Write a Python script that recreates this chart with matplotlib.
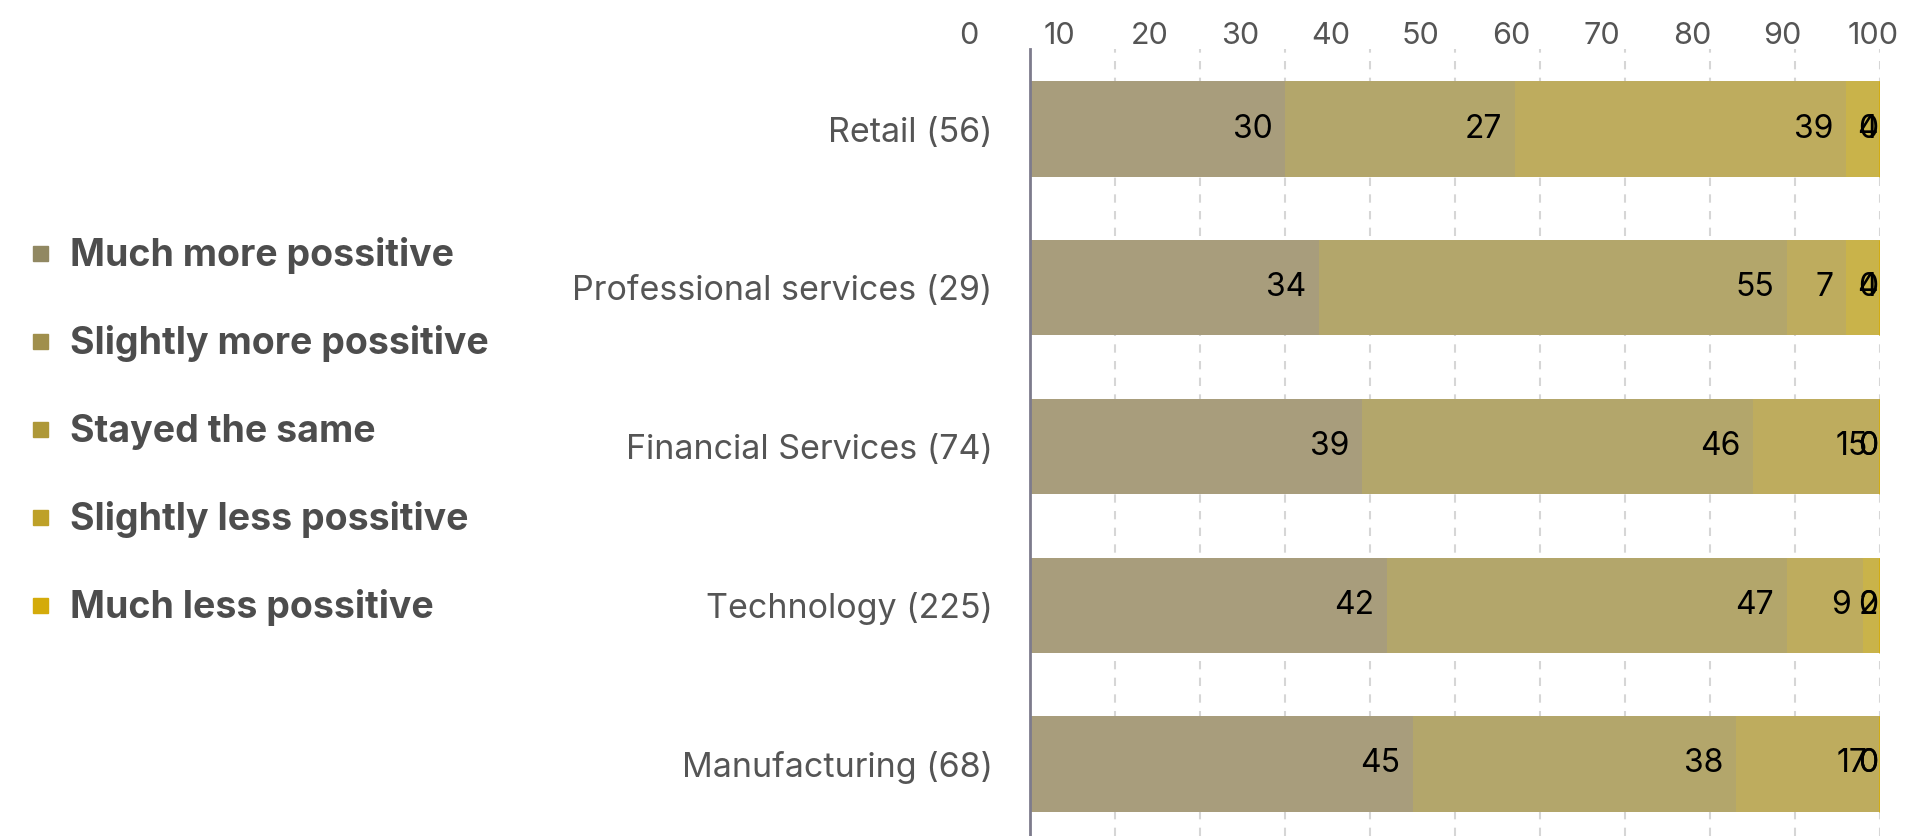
import matplotlib
matplotlib.use('Agg')
import matplotlib.pyplot as plt
from matplotlib.lines import Line2D
import numpy as np

plt.rcParams['font.family'] = ['Inter', 'DejaVu Sans']

# Data (percent of respondents per sector)
categories = ['Retail (56)', 'Professional services (29)', 'Financial Services (74)',
              'Technology (225)', 'Manufacturing (68)']
series_names = ['Much more possitive', 'Slightly more possitive', 'Stayed the same',
                'Slightly less possitive', 'Much less possitive']
much_more = [30, 34, 39, 42, 45]
slightly_more = [27, 55, 46, 47, 38]
stayed_same = [39, 7, 15, 9, 17]
slightly_less = [4, 4, 0, 2, 0]
much_less = [0, 0, 0, 0, 0]
tick_values = list(range(0, 101, 10))

series = [much_more, slightly_more, stayed_same, slightly_less, much_less]
legend_colors = ['#918862', '#a08f4c', '#ae9838', '#bea128', '#d4ab0a']
bar_colors = ['#a89d7c', '#b3a66b', '#beac5e', '#c9b34a', '#d4ac0d']

W, H = 1905, 836
fig = plt.figure(figsize=(W / 100, H / 100), dpi=100)

# main bar axes
ax = fig.add_axes([1030 / W, 0, 850 / W, 787 / H])
y = np.arange(len(categories))
left = np.zeros(len(categories))
for i, (vals, fc) in enumerate(zip(series, bar_colors)):
    vals = np.array(vals, dtype=float)
    last = i == len(series) - 1
    ax.barh(y, vals, left=left, height=0.6, color=fc,
            edgecolor=fc, linewidth=2 if last else 0, zorder=2)
    ends = left + vals
    for yi, xe, v in zip(y, ends, vals):
        off = -1.5 if v < 5 else -9
        ax.annotate(f'{int(v)}', xy=(xe, yi), xytext=(off, 0), textcoords='offset points',
                    ha='right', va='center', fontsize=23, color='black', zorder=3)
    left = ends

ax.set_xlim(0, 100)
ax.set_ylim(4.454, -0.504)
ax.set_xticks(tick_values)
ax.tick_params(axis='x', bottom=False, labelbottom=False)
ax.grid(axis='x', color='#d6d6d6', linestyle=(0, (4, 4)), linewidth=1.5, zorder=0)
ax.set_yticks(y)
ax.set_yticklabels(categories, fontsize=24.5, color='#555555')
ax.tick_params(axis='y', length=0, pad=27)
for s in ['top', 'right', 'bottom']:
    ax.spines[s].set_visible(False)
ax.spines['left'].set_color('#7d7b8c')
ax.spines['left'].set_linewidth(2)
ax.spines['left'].set_zorder(4)

# top tick labels (offset from the gridlines, as in the original)
ax_top = fig.add_axes([969 / W, 787 / H, 904 / W, 0.0001])
ax_top.set_xlim(0, 100)
ax_top.set_xticks(tick_values)
ax_top.set_yticks([])
ax_top.tick_params(axis='x', bottom=False, labelbottom=False, top=False, labeltop=True,
                   labelsize=22, labelcolor='#555555', pad=-4)
for s in ax_top.spines.values():
    s.set_visible(False)
ax_top.patch.set_visible(False)

# legend
handles = [Line2D([], [], marker='s', linestyle='none', markersize=10.8,
                  markerfacecolor=c, markeredgecolor=c) for c in legend_colors]
leg = fig.legend(handles, series_names, loc='upper left', bbox_to_anchor=(14 / W, 1 - 222 / H),
                 frameon=False, prop={'weight': 'bold', 'size': 27}, labelcolor='#4d4d4d',
                 handlelength=0.6, handletextpad=0.5, labelspacing=1.37, borderaxespad=0)

plt.savefig('out.png', dpi=100)
